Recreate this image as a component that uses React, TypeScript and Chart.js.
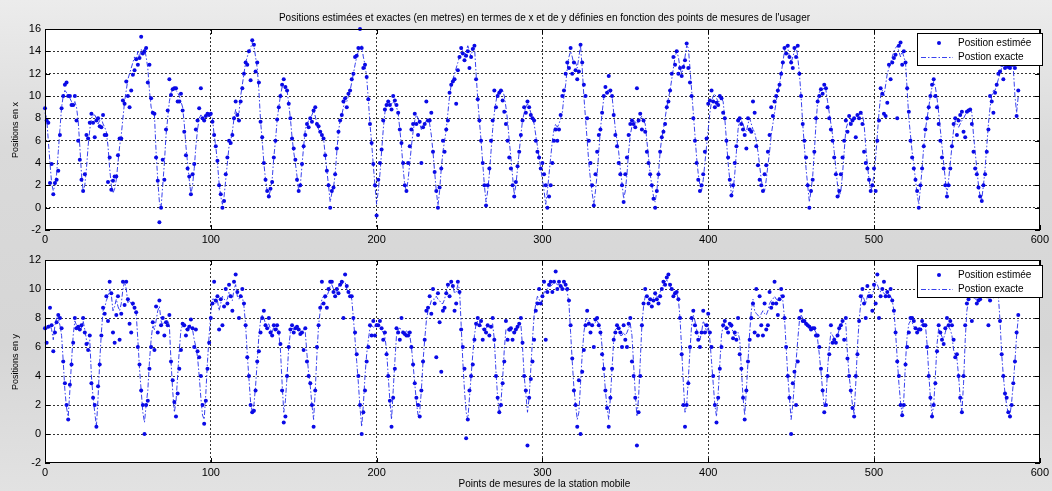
import React, { useEffect, useRef } from "react";
import { Chart, registerables } from "chart.js";

Chart.register(...registerables);

const TITLE =
  "Positions estimées et exactes (en metres) en termes de x et de y définies en fonction des points de mesures de l'usager";
const X_LABEL = "Points de mesures de la station mobile";
const TOP_Y_LABEL = "Positions en x";
const BOTTOM_Y_LABEL = "Positions en y";
const LEGEND_EST = "Position estimée";
const LEGEND_EXACT = "Postion exacte";

const X_TICKS = [0, 100, 200, 300, 400, 500, 600];
const TOP_Y_TICKS = [-2, 0, 2, 4, 6, 8, 10, 12, 14, 16];
const BOTTOM_Y_TICKS = [-2, 0, 2, 4, 6, 8, 10, 12];

// Positions en x : trajectoire exacte
const X_EXACT = [
  8.5, 8, 6, 4, 2.2, 1.5, 2, 3, 5, 7,
  9, 10, 10.5, 10.3, 10, 9.8, 9.5, 9.2, 9.5, 9,
  7.8, 5.5, 3, 1.5, 2, 3.5, 5.5, 7, 8, 8.3,
  8.3, 8, 7.5, 7.8, 8, 7.5, 7.2, 6.8, 5.5, 3.5,
  2, 1.3, 1.7, 2.5, 4, 5.5, 6.5, 8, 9.5, 10.5,
  11.5, 12, 12.5, 13, 13.5, 13.2, 14, 13.5, 14.2, 13.8,
  14.3, 13.5, 12.5, 10.5, 9, 8.5, 8.3, 5, 2.5, 0.5,
  0, 2, 4, 6.5, 8, 9.5, 10.3, 10.5, 10.6, 10.5,
  10.3, 10, 9.5, 9, 7.5, 5.5, 4, 2.5, 1.2, 2,
  3.5, 5.5, 7, 8, 8.3, 8.2, 8, 8.2, 8.4, 8.3,
  8.3, 8, 6.5, 5.5, 4, 2.2, 1, 0.3, 1, 2.5,
  4, 5.5, 6, 6.8, 8, 8.8, 8.3, 8.5, 10, 11,
  12, 13, 13.5, 14, 14.3, 14.8, 14.5, 13.5, 12.5, 10.5,
  7.8, 6, 4, 2.5, 1.5, 1, 1.6, 2.5, 4.5, 6,
  7.8, 9, 10, 10.8, 10.8, 10.6, 10.5, 9.3, 8, 6.3,
  5, 4, 2.8, 1.5, 2, 3.8, 5.5, 7, 7.5, 7.8,
  8, 8.3, 8.7, 8.2, 7.5, 7, 6.8, 6.5, 6.2, 4.7,
  3.3, 2, 0.5, 1.3, 1.8, 3, 5, 6.8, 7.8, 8.3,
  9, 9.7, 9.5, 10, 10.5, 11.2, 12, 12.8, 13.5, 14,
  14.3, 14.5, 13.5, 12.8, 11.7, 9.7, 7.5, 5.8, 3.8, 2,
  0.3, 1.5, 3, 5, 7, 8.5, 9.2, 9.5, 9.5, 9.3,
  9.5, 9.3, 9, 8.5, 7, 5.5, 3.5, 2, 1.5, 2.5,
  4, 5.5, 6.8, 7.8, 8.3, 8, 7.5, 7, 7.2, 7.5,
  7.8, 8, 7.5, 6.5, 5, 3.2, 1.5, 0.2, 1.5, 3.5,
  5, 6, 7, 8.5, 10, 11, 11.5, 12, 12.5, 13,
  13.5, 14.3, 14, 13.5, 14, 14.5, 14, 13.5, 14.3, 14.5,
  12, 9.7, 7.8, 6, 4, 2, 0.5, 1.5, 3, 5,
  7, 8.5, 9.5, 10.3, 10.5, 10.3, 10.5, 10, 9, 7.8,
  6, 4.5, 2.8, 1.2, 2, 3.5, 5, 6.5, 7.8, 8.5,
  9, 9.3, 9, 8.5, 8, 7.5, 6.5, 5.5, 4.5, 3.5,
  2.5, 1.5, 0.3, 1.5, 3, 4.5, 6, 7, 7.5, 7.2,
  7.5, 8, 8.5, 10, 11, 12.5, 13.5, 14, 13.5, 12.8,
  13, 12.5, 13.5, 14.5, 12.5, 10, 8, 6, 4, 2.5,
  1.3, 0.3, 1.5, 3, 5, 7, 8.5, 9.8, 10.3, 10.5,
  10.5, 10.3, 10, 8.5, 7, 6, 5, 3.5, 2.2, 0.8,
  1.5, 3, 5, 6.5, 7.3, 7.8, 7.7, 7.5, 7.7, 8,
  8.2, 7.8, 7.5, 6, 4.5, 3, 2, 1, 0.5, 1.5,
  3, 5, 6.3, 7, 8, 9, 9.8, 10.5, 11.5, 12.5,
  13.5, 14, 13.5, 12.5, 12, 12.5, 13.5, 14.5, 14.3, 12.5,
  10.5, 8.5, 6.5, 4.5, 3, 2, 1.5, 2.5, 4, 5.5,
  7, 8.5, 9.5, 10, 10.2, 9.8, 9.5, 9.5, 9.8, 9.5,
  8, 6, 4, 2.5, 1.2, 1.5, 3, 5, 7, 8,
  7.8, 7.5, 7, 6.8, 7.5, 8, 7.5, 7, 6.8, 6,
  5, 3.8, 2.5, 1.8, 1.5, 2.5, 3.8, 5, 6.5, 7.5,
  8.5, 9.5, 10.5, 11, 12, 13, 14, 14.5, 14.3, 13.5,
  13, 13.5, 14, 14.5, 13.5, 12, 10, 7.5, 5.5, 3.5,
  2, 0.5, 1.5, 2.8, 5, 7.5, 9.5, 10.3, 10.6, 10.5,
  10.8, 10.5, 9.5, 8.5, 7.5, 6.5, 5, 3.5, 2, 1,
  1.5, 3, 5, 7, 7.5, 7.5, 8, 7.8, 7.8, 8,
  8.2, 8.3, 8.5, 8.3, 7.5, 5.5, 3.8, 2.5, 1.5, 2,
  3, 4.5, 6.5, 8.5, 10, 10.5, 10, 11, 12, 12.5,
  13, 13.5, 14, 14.3, 14.5, 14, 13.5, 14, 13.5, 13,
  10.5, 8, 6.5, 5, 3.8, 2.5, 1.2, 0.3, 1.8, 3.5,
  5.5, 7, 8, 9, 10, 10.8, 11.3, 10.8, 9.8, 8.5,
  7, 5.5, 4, 2.5, 1.2, 2.5, 4, 5.5, 7, 7.8,
  7.5, 7.2, 7.5, 7.8, 8, 8.3, 8.5, 8.7, 8.8, 8.5,
  6.5, 5, 3.5, 2, 1, 0.8, 2, 3.5, 5.5, 7.5,
  9, 10, 10.5, 10.5, 11, 11.5, 12, 12.5, 12.8, 12.8,
  12.5, 12.8, 12.8, 13, 12.5, 10, 8.5, 10,
];

// Positions en x : points estimés
const X_EST = [
  8.9, 7.8, 7.6, 2.2, 3.9, 1.2, 2.2, 2.5, 3.3, 6.5,
  8.9, 10, 11, 11.2, 10, 10, 9.2, 9.2, 10, 7.8,
  6, 4.3, 2.5, 1.5, 3, 6.5, 6.2, 7.6, 8.4, 7.6,
  6.3, 7.8, 8, 7.3, 7.2, 8.3, 6.5, 6.5, 2.3, 4.5,
  1.6, 2.4, 2.8, 2.8, 4.7, 6.2, 6.2, 9.6, 9.3, 11.3,
  10, 9, 10.5, 11.9, 12.3, 13.3, 12.8, 13.4, 15.3, 13.8,
  14, 14.3, 11.2, 12.8, 9.8, 8.5, 8.4, 4.5, 2.4, -1.3,
  0, 4.3, 2.5, 7, 8.7, 11.5, 10.1, 10.6, 10.7, 10.7,
  9.5, 9.5, 10.2, 8.7, 6.8, 4.7, 3.5, 2.8, 1.2, 3,
  3.9, 7, 7.8, 8.9, 10.7, 8, 7.8, 8.2, 8.4, 8.3,
  8.4, 7.7, 6.5, 5.5, 4.2, 2, 1.2, 0, 0.6, 3,
  4.5, 6, 5.8, 6.5, 8, 9.5, 8.3, 7.8, 9.5, 10.7,
  12, 13, 12.8, 14, 11.4, 15, 14.6, 12.2, 13, 11.2,
  7.7, 6.3, 4, 2.5, 1.5, 1, 1.7, 2.3, 4.5, 6,
  7.9, 9, 10, 11, 11.5, 10.8, 10.5, 9.3, 8, 6.2,
  5.3, 4.3, 2.5, 1.5, 2, 3.9, 5.5, 6.5, 7.5, 7.2,
  8, 7.7, 8.7, 9, 7.5, 7.3, 6.8, 6.5, 6.2, 4.7,
  3.3, 2, 0, 1.5, 1.8, 3, 5.3, 6.8, 7.8, 8.3,
  9.5, 9.8, 9, 10.2, 10.5, 11.5, 12, 13.5, 13.6, 14.3,
  16, 14.3, 12.5, 12.8, 11.7, 9.7, 7.5, 5.8, 3.9, 2,
  -0.7, 2.5, 4, 5.2, 7.8, 8.8, 9.2, 9.5, 9.2, 8.8,
  10, 9.6, 9.2, 8.5, 7, 5.8, 4, 2, 1.5, 4,
  5.5, 7, 7.5, 8.4, 7.5, 6.5, 7.7, 4, 7.2, 7.5,
  9.5, 7.8, 7.8, 8.5, 5, 3.2, 1.5, 0, 1.8, 3.5,
  6, 5, 7, 7.8, 10.3, 11, 11.3, 11.5, 9.3, 12.3,
  13.5, 14.3, 13.8, 13.2, 13.6, 14, 12.5, 13.5, 14.2, 14.5,
  11.5, 9.7, 7.8, 6, 4, 2, 0.2, 2, 3.5, 6,
  7.8, 10.5, 9, 10, 10.3, 10.5, 9.6, 8.6, 7.5, 6,
  4.5, 3.5, 2, 1, 2.3, 3.7, 5, 6.5, 7.8, 9,
  8.5, 9.5, 9, 8.3, 8, 7.8, 6, 5, 4.5, 3.5,
  4, 3, 2, 0, 1, 2, 4, 6, 7, 6,
  7, 8.3, 10, 10.5, 12, 13, 12.5, 14.3, 12, 13,
  12.3, 11.5, 12.2, 14.6, 13, 11, 10, 8, 6, 4,
  2, 0.2, 3, 5, 6.5, 7, 8.5, 10, 10.8, 10.3,
  11.8, 10.5, 10, 8.3, 6.5, 5.5, 4, 3, 2, 0.5,
  3, 4.5, 6.5, 7.5, 7.8, 7.5, 7.2, 10.7, 7.8, 8.4,
  7, 7.8, 6.8, 5, 4, 3, 2, 0.8, 0, 1.5,
  3, 5, 6.3, 6.8, 7.5, 9, 9.5, 10.5, 12, 13.5,
  12.8, 14, 12, 12.5, 11.8, 12.6, 13.2, 14.7, 12.5, 11.2,
  10, 8, 6, 4, 2.5, 1.5, 2, 3, 5, 6.2,
  9.3, 9.6, 10.5, 9.5, 9, 9.4, 9.2, 10, 9.8, 8.5,
  8, 6, 4.5, 2.5, 1.1, 2, 4, 5.5, 7.8, 8,
  7.5, 7, 6.5, 5.3, 8, 7, 6.8, 9.5, 8.5, 5.5,
  3.8, 2.5, 2, 1.5, 3, 3.8, 5, 6.5, 9, 8.2,
  9.5, 10, 10.5, 11, 12, 13, 14.3, 13.8, 14.5, 13.5,
  13, 12.5, 14.3, 13.5, 14.5, 12, 10, 7.5, 6, 4.5,
  2, 0, 1.5, 2.5, 5, 8, 9.5, 10, 10.6, 10.2,
  11, 10.7, 9, 8, 7, 6, 4.5, 3, 1, 1.5,
  3, 4.5, 6, 7.8, 6.8, 8.2, 7.5, 7.8, 8, 6.3,
  8.3, 8, 8.5, 7.5, 5, 4, 3.5, 2.5, 1.5, 2,
  3.5, 1.5, 6, 7.8, 10.7, 10.2, 8.4, 8.2, 9.4, 12.8,
  11.5, 13, 13.4, 13.7, 8, 14.5, 14.8, 12.8, 14, 13,
  10.7, 8.6, 6, 4.5, 3.5, 2.5, 1.5, 0, 2, 3.5,
  5.5, 7, 8, 9, 10, 11, 11.5, 10, 9, 7.5,
  6, 4.5, 3.5, 2, 1, 2, 3.5, 5.5, 7.5, 8,
  6.5, 7.8, 8.3, 8.6, 6.8, 6.3, 8.6, 8.7, 8.8, 7.5,
  5, 3.5, 3, 1.8, 1, 0.6, 2, 3, 5, 7,
  10, 9.5, 8.5, 10.3, 11, 12, 12.2, 12.8, 11.5, 12.5,
  12.8, 12.6, 12.5, 12.8, 12.8, 12.5, 8.2, 10.5,
];

// Positions en y : trajectoire exacte
const Y_EXACT = [
  7.3, 7.2, 7.5, 7.5, 7.2, 6.5, 7.5, 8, 8, 7.5,
  6.8, 5, 3, 1.8, 1.2, 3, 5, 6.8, 7.8, 7.5,
  7.3, 7.2, 7.3, 7.8, 7.2, 6.5, 6.2, 6.5, 4, 2.5,
  1.5, 0.5, 2.5, 5, 7, 8.5, 8.7, 9.2, 9.5, 10,
  9.6, 8.5, 8.8, 9.3, 8.8, 8.5, 9, 10, 10.5, 10,
  9, 9.2, 9, 8.8, 8.6, 8.3, 6.5, 4.5, 3, 1.5,
  0.8, 2, 3, 5, 6.5, 7.5, 7.2, 7.8, 8.5, 8.8,
  7.8, 7.5, 7.7, 7.8, 7.8, 7.5, 5, 3, 1.5, 2.2,
  4, 5.8, 7.2, 7.5, 7.3, 7.2, 7.3, 7.5, 7.5, 7.2,
  6.5, 6, 5.3, 4, 2.5, 1.3, 1, 2.8, 5, 6.8,
  8.3, 9.3, 9.3, 9, 9.2, 8.5, 9, 9.5, 9.3, 9.2,
  9.3, 9.8, 9.5, 9.2, 10, 10.3, 9.5, 9.3, 9.6, 9.5,
  8.8, 7.5, 5.5, 3.8, 2.2, 1.5, 2, 3.3, 5, 6.8,
  7.8, 8.2, 8, 7.6, 7.5, 7.6, 7.2, 7, 7.4, 7.5,
  7.3, 7, 5.8, 3.5, 1.5, 2.3, 4, 6, 7, 7.3,
  7.2, 7.3, 7.3, 7.2, 7.1, 7, 7.2, 7, 5.5, 4.2,
  3.3, 2, 1, 3, 5.5, 7.5, 8.5, 9.3, 9.5, 9.3,
  9.5, 9.8, 10.2, 10.3, 10, 9.7, 9.8, 10.2, 10.3, 10.3,
  10.5, 10.5, 10, 9.8, 9.6, 9.3, 8, 6.5, 5, 3.5,
  1.8, 0.5, 2, 4, 5.5, 6.5, 7.3, 7.5, 7.3, 7.5,
  7.6, 7.5, 7.3, 7.2, 7, 6.7, 5.8, 4, 2.3, 1,
  3, 5, 6.8, 7.2, 7.3, 7.2, 7, 7, 7.1, 7,
  6.8, 6, 4.8, 3.5, 2.2, 1.3, 1.5, 3, 5, 6.5,
  7.8, 8.5, 8.8, 9.2, 9.3, 9.3, 9.5, 9.3, 9.2, 9,
  9, 9.3, 9.8, 10.2, 10.3, 10.5, 10.2, 9.7, 9.8, 10.3,
  10, 7.5, 5, 3, 1.5, 1, 2.5, 4, 5.5, 6.8,
  7.6, 7.8, 7.7, 7.5, 7.2, 7.2, 7.3, 7.4, 7.3, 7.5,
  7.6, 6.5, 4.3, 2.5, 1.5, 2.2, 3.8, 5.8, 7.2, 7.2,
  7, 7.2, 7, 7, 7.2, 7.3, 7.5, 7.6, 6, 4,
  2.8, 1.5, 2.5, 4.5, 6.5, 8.2, 9, 9.5, 9.3, 9,
  9.3, 9.8, 9.8, 10, 10.2, 10.2, 10.3, 10.5, 10.4, 10.3,
  10.3, 10.2, 10.2, 10, 10, 9.8, 9, 7, 5, 3.2,
  2, 1, 1.5, 3.5, 5.5, 7, 7.8, 8, 7.8, 7.5,
  7.5, 7.6, 7.7, 7.8, 7.6, 7.2, 6, 4.5, 3, 1.8,
  1, 2.5, 4.5, 6.5, 7.2, 7.3, 7.2, 6.8, 6.8, 7,
  6.8, 7, 7.3, 7.6, 6.8, 4.8, 2.8, 1.2, 2.5, 5,
  7.5, 8.8, 9.5, 9.6, 9.3, 9.2, 9.2, 9.4, 9.6, 9.5,
  9.4, 9.8, 10, 10.3, 10.5, 10.6, 10.5, 10.2, 10, 9.8,
  9.8, 9.7, 9.3, 8, 5.8, 3.5, 1.5, 2, 3.8, 5.8,
  7.5, 8.2, 7.8, 7.2, 6.8, 6.5, 7, 7.8, 7.5, 7,
  7.5, 6.5, 5, 3.5, 2, 1.2, 2.8, 4.8, 6.8, 7.5,
  7.6, 7.4, 7.3, 7.4, 7.4, 7, 6.8, 6.8, 7, 6.5,
  4.5, 2.5, 1.3, 3, 5, 7, 8.5, 9.3, 8.5, 8.3,
  8.2, 8, 8.3, 8.5, 8.3, 8.2, 8.5, 9, 9.2, 9.3,
  9.5, 9.3, 9.2, 9.5, 9.6, 9.2, 8, 6, 4, 2.5,
  1, 2, 3.5, 5, 6.5, 7.8, 8.2, 8, 7.8, 7.6,
  7.5, 7.4, 7.3, 7.3, 7.2, 7, 6.5, 5.5, 4.3, 3,
  1.8, 2.3, 4.5, 6, 7, 6.8, 6.6, 6.6, 6.8, 7.2,
  7.5, 7.7, 7.8, 7.6, 5.5, 4, 3, 2, 1.4, 3.5,
  6, 7.8, 9, 9.6, 9.3, 9, 9.5, 9.8, 9.5, 9.6,
  10, 10.5, 10.3, 10, 9.8, 9.8, 9.7, 9.6, 9.7, 9.6,
  9.5, 9.2, 8.5, 7, 5.2, 3.5, 2.2, 1.3, 2.5, 5,
  6.8, 7.6, 7.8, 7.7, 7.4, 7.3, 7.2, 7.3, 7.4, 7.6,
  7.6, 7.5, 6.2, 4.2, 2.5, 1.3, 2, 4, 6.2, 7.3,
  7, 6.7, 6.6, 7, 7.5, 7.4, 7.2, 6.8, 5.8, 5.4,
  5.2, 4, 2.5, 1.5, 3.5, 6.5, 8.5, 9.2, 9.5, 9.6,
  9.5, 9.3, 9.3, 9.5, 9.6, 10, 10, 9.8, 9.5, 9.3,
  9.5, 9.7, 9.8, 9.8, 9.7, 9.5, 7.8, 5.5, 4, 2.8,
  2, 1.4, 1.3, 2.2, 3.5, 5, 6.8, 8,
];

// Positions en y : points estimés
const Y_EST = [
  7.3, 6.3, 7.4, 8.7, 7.5, 5.7, 7, 7.7, 8.2, 8,
  7.3, 5, 3.5, 2, 1, 3.4, 4.8, 6.3, 8, 7.3,
  7.4, 7.2, 7.5, 8, 7, 6.2, 5.8, 6.8, 3.5, 2.5,
  2, 0.5, 3.3, 4.8, 6.8, 8.7, 8.3, 9.5, 7.8, 10.5,
  9.7, 7, 6.3, 8.2, 9.5, 6.5, 8.3, 10.5, 8.9, 10.5,
  9.3, 7.6, 7, 9, 8.7, 8.4, 6, 4.8, 3, 2,
  0, 2, 2.3, 4.5, 6, 7.7, 5.8, 8.8, 7, 9.2,
  7.5, 8, 6.8, 7.7, 7.5, 8.2, 5, 3.7, 2.2, 1.2,
  2.8, 4.5, 5.8, 7.6, 7.5, 6.8, 7.2, 7.4, 7.9, 7.3,
  6, 7.2, 5.7, 5.3, 4, 2, 0.7, 2.3, 4.5, 6.3,
  8, 9, 10.5, 9.2, 9.5, 7.2, 9.3, 7.5, 8.8, 10,
  9, 10.3, 9.5, 8.5, 10.5, 11, 9.8, 8, 9.5, 10,
  9, 7.5, 5.3, 4, 2, 1.5, 1.6, 3, 5, 5.7,
  7, 8, 8.5, 7.5, 7.3, 8, 7, 6.8, 7.5, 7.2,
  7.5, 7, 6.2, 3, 0.8, 1.2, 4, 6, 7.2, 7.5,
  7, 7.3, 7.4, 7.2, 6.9, 7, 5.8, 7.3, 5, 4,
  3.5, 2, 0.5, 3, 6, 7.5, 8.7, 10.5, 9, 9.5,
  8.7, 10, 10.5, 10.5, 9.8, 9.5, 10, 9.7, 10.3, 10.5,
  8, 11, 10.2, 9.8, 9.5, 9.5, 8, 7, 5.5, 4,
  2, 0, 1.5, 3, 5, 6, 7.5, 6.8, 7.8, 6.8,
  7.5, 7.5, 7.8, 7.3, 6.5, 7, 5.5, 4, 2.3, 0.5,
  2.5, 4.5, 7.3, 7, 6.5, 8, 7, 6.9, 6.8, 6.8,
  7, 6, 4.8, 3.5, 2.5, 2, 1.2, 3, 5, 6.5,
  8.5, 8.7, 9.5, 8.3, 10, 9, 5.3, 9.7, 7.7, 4.3,
  8.5, 8.7, 9.7, 10.3, 9.5, 10.5, 10.2, 8.5, 9, 10.5,
  9.8, 7.2, 6, 4.5, -0.3, 1, 3, 4, 4.8, 6.5,
  7.6, 8, 7.5, 7.8, 6.5, 7.2, 7, 7.5, 6.8, 7.4,
  8, 6.5, 4, 2.5, 1.5, 2, 3.5, 5, 7.8, 6.5,
  7.2, 7.3, 6.5, 7, 7.2, 7.4, 7.6, 8, 6.3, 4,
  3, -0.8, 2.5, 3.8, 5, 6.5, 8.5, 9, 10, 9,
  9.5, 10.5, 6.5, 9.8, 10.3, 10.5, 9.8, 10.5, 11.2, 10,
  10.5, 10.2, 10, 10.5, 10.3, 10, 9.2, 7.5, 5.2, 3,
  2, 0.5, 3.7, 0, 4.3, 5.8, 7.5, 8.5, 7.6, 7,
  7.5, 6, 7.9, 8, 7.5, 7, 5.5, 4.5, 3, 1.8,
  0.5, 2.5, 4.5, 6.5, 7, 7.5, 7.3, 7, 6, 7.5,
  6.5, 6, 7.6, 8, 5, 4, 2.5, -0.8, 1.5, 4,
  7.5, 9, 10, 9.5, 9, 9.3, 8.8, 9.2, 9.7, 9.3,
  9, 9.5, 10, 10.5, 10.3, 10.8, 11, 10.3, 10, 9.5,
  9.7, 9.8, 9.3, 8, 5.5, 2, 0.5, 2, 3.5, 6,
  8, 8.5, 7.5, 7, 6.5, 6, 7, 8.5, 7, 7.5,
  8.3, 7, 6, 4, 2, 0.8, 2.5, 4.5, 6, 7.5,
  7.8, 7.3, 7, 7.6, 7.5, 6.6, 7, 6.5, 8, 5.5,
  4.5, 2.5, 1, 3, 5, 6.5, 8, 9, 7, 10,
  6.8, 9.5, 7.5, 6.8, 9, 7.2, 7.5, 9.8, 8.7, 9,
  10.5, 9, 8.2, 9.3, 10, 9.5, 8, 6, 4, 2.5,
  0, 3.5, 4.3, 2, 5, 8, 8.5, 7.8, 7.8, 7.6,
  7.5, 7.4, 7.2, 7.3, 7.3, 6.8, 6.8, 6, 4.5, 3,
  1.5, 2, 4, 5.5, 7.5, 6.3, 6.5, 6.3, 6.8, 7.3,
  7.5, 7.8, 6.5, 8, 5.2, 4, 3, 1.8, 1.2, 4,
  5.5, 7.8, 9.5, 10, 9, 8, 10.2, 9.5, 9.5, 8.5,
  10.3, 9, 11, 8, 9.5, 10, 10.5, 9.5, 9.8, 9.5,
  10, 9.2, 8.5, 7, 5, 4, 2, 1.3, 2, 4.8,
  6, 7, 8, 8, 7.8, 7.3, 7, 7.2, 7.2, 7.8,
  7.5, 7.5, 6, 4, 2.5, 1.2, 2, 3.5, 5.7, 7.5,
  7, 6.5, 6.2, 7.3, 8, 7.5, 7.8, 7.5, 6.5, 5.3,
  5.5, 4, 2.5, 1.5, 4, 7.5, 9, 9.3, 9.5, 7.8,
  9.5, 10, 9, 9.2, 9.3, 10.3, 9.6, 10, 9.5, 7.5,
  9.2, 10, 9.5, 10, 9.6, 9.8, 7.8, 5.5, 4, 2.8,
  2.5, 1.5, 1.2, 2, 3.5, 5, 7, 8.2,
];

const FONT = "'Liberation Sans', Arial, Helvetica, sans-serif";
const POINT_COLOR = "#0a0ae6";
const LINE_COLOR = "rgba(35,45,235,0.9)";
const LINE_DASH = [5, 2, 1.5, 2];
const GRID_COLOR = "rgba(0,0,0,0.8)";

function toPoints(values: number[]) {
  return values.map((v, i) => ({ x: i, y: v }));
}

function drawLegend(ctx: CanvasRenderingContext2D, left: number, top: number) {
  const w = 125;
  const h = 32;
  ctx.save();
  ctx.fillStyle = "#ffffff";
  ctx.fillRect(left, top, w, h);
  ctx.strokeStyle = "#000000";
  ctx.lineWidth = 1;
  ctx.setLineDash([]);
  ctx.strokeRect(left + 0.5, top + 0.5, w, h);
  ctx.fillStyle = POINT_COLOR;
  ctx.beginPath();
  ctx.arc(left + 22, top + 10, 2, 0, Math.PI * 2);
  ctx.fill();
  ctx.strokeStyle = LINE_COLOR;
  ctx.setLineDash(LINE_DASH);
  ctx.beginPath();
  ctx.moveTo(left + 4, top + 24.5);
  ctx.lineTo(left + 36, top + 24.5);
  ctx.stroke();
  ctx.setLineDash([]);
  ctx.fillStyle = "#000000";
  ctx.font = `10px ${FONT}`;
  ctx.textBaseline = "middle";
  ctx.textAlign = "left";
  ctx.fillText(LEGEND_EST, left + 41, top + 10);
  ctx.fillText(LEGEND_EXACT, left + 41, top + 24);
  ctx.restore();
}

type PanelOpts = {
  est: number[];
  exact: number[];
  yMin: number;
  yMax: number;
  yTicks: number[];
  padTop: number;
  xHeight: number;
  legendTop: number;
};

function makeChart(canvas: HTMLCanvasElement, o: PanelOpts) {
  const framePlugin = {
    id: "matlabFrame",
    beforeDraw(chart: any) {
      const { ctx, chartArea } = chart;
      ctx.save();
      ctx.fillStyle = "#ffffff";
      ctx.fillRect(chartArea.left, chartArea.top, chartArea.right - chartArea.left, chartArea.bottom - chartArea.top);
      ctx.restore();
    },
    afterDraw(chart: any) {
      const { ctx, chartArea, scales } = chart;
      const l = Math.round(chartArea.left);
      const t = Math.round(chartArea.top);
      const r = Math.round(chartArea.right);
      const b = Math.round(chartArea.bottom);
      ctx.save();
      ctx.strokeStyle = "#000000";
      ctx.lineWidth = 1;
      ctx.setLineDash([]);
      ctx.strokeRect(l + 0.5, t + 0.5, r - l - 1, b - t - 1);
      ctx.beginPath();
      for (const v of X_TICKS) {
        const px = Math.round(scales.x.getPixelForValue(v)) + 0.5;
        ctx.moveTo(px, b);
        ctx.lineTo(px, b - 5);
        ctx.moveTo(px, t);
        ctx.lineTo(px, t + 5);
      }
      for (const v of o.yTicks) {
        const py = Math.round(scales.y.getPixelForValue(v)) + 0.5;
        ctx.moveTo(l, py);
        ctx.lineTo(l + 5, py);
        ctx.moveTo(r, py);
        ctx.lineTo(r - 5, py);
      }
      ctx.stroke();
      ctx.restore();
      drawLegend(ctx, 917, o.legendTop);
    },
  };

  const gridColor = (min: number, max: number) => (c: any) =>
    c.tick && (c.tick.value === min || c.tick.value === max) ? "rgba(0,0,0,0)" : GRID_COLOR;

  return new Chart(canvas, {
    type: "scatter",
    data: {
      datasets: [
        {
          label: LEGEND_EST,
          data: toPoints(o.est),
          showLine: false,
          pointRadius: 2,
          pointBackgroundColor: POINT_COLOR,
          pointBorderWidth: 0,
          pointHoverRadius: 2,
          clip: 4,
        },
        {
          label: LEGEND_EXACT,
          data: toPoints(o.exact),
          showLine: true,
          borderColor: LINE_COLOR,
          borderWidth: 1,
          borderDash: LINE_DASH,
          pointRadius: 0,
          pointHoverRadius: 0,
          tension: 0,
          clip: 2,
        },
      ],
    } as any,
    options: {
      animation: false,
      responsive: false,
      maintainAspectRatio: false,
      events: [],
      layout: { padding: { top: o.padTop, right: 8, left: 0, bottom: 0 } },
      plugins: {
        legend: { display: false },
        tooltip: { enabled: false },
        title: { display: false },
      },
      scales: {
        x: {
          type: "linear",
          min: 0,
          max: 600,
          afterBuildTicks: (s: any) => {
            s.ticks = X_TICKS.map((v) => ({ value: v }));
          },
          afterFit: (s: any) => {
            s.height = o.xHeight;
          },
          grid: { color: gridColor(0, 600), lineWidth: 1, drawTicks: false },
          border: { display: false, dash: [2, 2] },
          ticks: {
            autoSkip: false,
            maxRotation: 0,
            padding: 3,
            color: "#000000",
            font: { family: FONT, size: 11 },
          },
        },
        y: {
          type: "linear",
          min: o.yMin,
          max: o.yMax,
          afterBuildTicks: (s: any) => {
            s.ticks = o.yTicks.map((v) => ({ value: v }));
          },
          afterFit: (s: any) => {
            s.width = 45;
          },
          grid: { color: gridColor(o.yMin, o.yMax), lineWidth: 1, drawTicks: false },
          border: { display: false, dash: [2, 2] },
          ticks: {
            autoSkip: false,
            padding: 4,
            color: "#000000",
            font: { family: FONT, size: 11 },
          },
        },
      },
    } as any,
    plugins: [framePlugin],
  });
}

export default function App() {
  const topRef = useRef<HTMLCanvasElement>(null);
  const bottomRef = useRef<HTMLCanvasElement>(null);

  useEffect(() => {
    const charts: Chart[] = [];
    if (topRef.current) {
      charts.push(
        makeChart(topRef.current, {
          est: X_EST,
          exact: X_EXACT,
          yMin: -2,
          yMax: 16,
          yTicks: TOP_Y_TICKS,
          padTop: 29,
          xHeight: 15,
          legendTop: 33,
        })
      );
    }
    if (bottomRef.current) {
      charts.push(
        makeChart(bottomRef.current, {
          est: Y_EST,
          exact: Y_EXACT,
          yMin: -2,
          yMax: 12,
          yTicks: BOTTOM_Y_TICKS,
          padTop: 15,
          xHeight: 28,
          legendTop: 20,
        })
      );
    }
    return () => charts.forEach((c) => c.destroy());
  }, []);

  const textBase: React.CSSProperties = {
    position: "absolute",
    fontFamily: FONT,
    color: "#000",
    whiteSpace: "nowrap",
    textAlign: "center",
  };

  return (
    <div
      style={{
        position: "absolute",
        left: 0,
        top: 0,
        width: 1052,
        height: 491,
        overflow: "hidden",
        background: "linear-gradient(#ececec 0%, #dadada 30%, #d6d6d6 70%, #e2e2e2 100%)",
      }}
    >
      <canvas ref={topRef} width={1052} height={245} style={{ position: "absolute", left: 0, top: 0, display: "block" }} />
      <canvas ref={bottomRef} width={1052} height={246} style={{ position: "absolute", left: 0, top: 245, display: "block" }} />
      <div style={{ ...textBase, left: 45, width: 999, top: 12, fontSize: 10, lineHeight: "12px" }}>{TITLE}</div>
      <div style={{ ...textBase, left: 45, width: 999, top: 478, fontSize: 10, lineHeight: "12px" }}>{X_LABEL}</div>
      <div
        style={{
          ...textBase,
          left: 15 - 100,
          width: 200,
          top: 129.5 - 6,
          height: 12,
          fontSize: 9,
          lineHeight: "12px",
          transform: "rotate(-90deg)",
        }}
      >
        {TOP_Y_LABEL}
      </div>
      <div
        style={{
          ...textBase,
          left: 15 - 100,
          width: 200,
          top: 361.5 - 6,
          height: 12,
          fontSize: 9,
          lineHeight: "12px",
          transform: "rotate(-90deg)",
        }}
      >
        {BOTTOM_Y_LABEL}
      </div>
    </div>
  );
}
